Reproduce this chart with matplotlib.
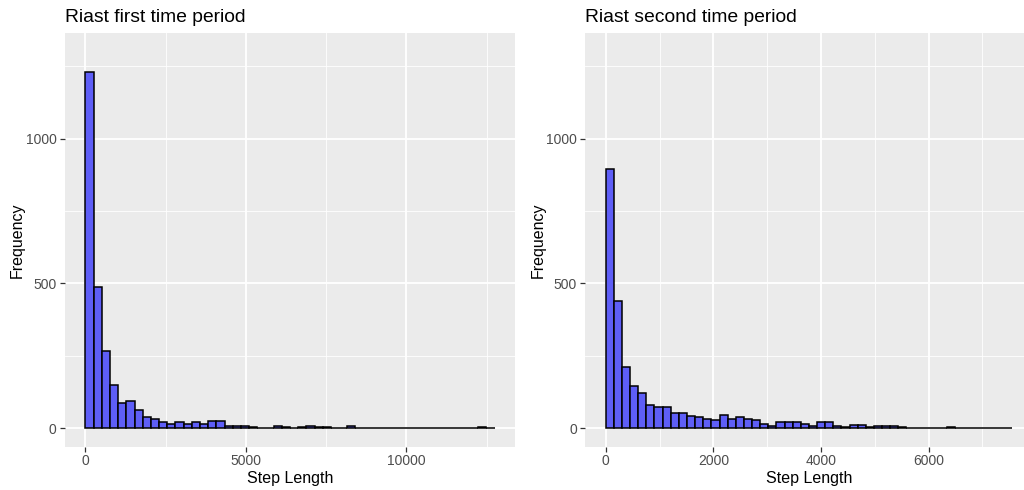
import numpy as np
import matplotlib
matplotlib.use("Agg")
import matplotlib.pyplot as plt
from matplotlib.ticker import MultipleLocator

plt.rcParams['font.family'] = ['Liberation Sans', 'DejaVu Sans']

# ---- data ----
titles = ["Riast first time period", "Riast second time period"]
x_label = "Step Length"
y_label = "Frequency"

binwidth_first = 255
counts_first = [1230, 487, 268, 148, 88, 95, 62, 37, 30, 22,
                15, 20, 14, 20, 16, 26, 26, 8, 6, 6,
                3, 2, 2, 7, 3, 2, 3, 9, 5, 3,
                1, 1, 6, 1, 1, 1, 0, 1, 2, 2,
                1, 0, 1, 1, 0, 1, 2, 2, 4, 1]

binwidth_second = 151
counts_second = [896, 441, 212, 146, 123, 80, 74, 74, 52, 51,
                 43, 40, 33, 29, 46, 33, 39, 33, 28, 16,
                 7, 22, 22, 22, 16, 7, 20, 20, 7, 5,
                 10, 10, 3, 8, 8, 7, 3, 1, 1, 0,
                 1, 1, 5, 2, 1, 2, 1, 1, 1, 2]

x_major_first = [0, 5000, 10000]
x_major_second = [0, 2000, 4000, 6000]
y_major = [0, 500, 1000]
y_limit = 1300

# ---- style ----
W, H = 1024, 490
fig = plt.figure(figsize=(W / 100, H / 100), dpi=100)
fig.patch.set_facecolor("white")

panel_bg = "#EBEBEB"
bar_fill = "#5E5EF7"
text_col = "#4D4D4D"


def draw(ax, counts, bw, xmaj, xminor, title):
    counts = np.asarray(counts)
    lefts = np.arange(len(counts)) * bw
    ax.set_facecolor(panel_bg)
    ax.bar(lefts, counts, width=bw, align="edge", color=bar_fill,
           edgecolor="black", linewidth=1.1, zorder=3)
    span = len(counts) * bw
    ax.set_xlim(-0.05 * span, span * 1.05)
    ax.set_ylim(-0.05 * y_limit, y_limit * 1.05)
    ax.set_xticks(xmaj)
    ax.set_xticklabels([str(v) for v in xmaj])
    ax.xaxis.set_minor_locator(MultipleLocator(xminor))
    ax.set_yticks(y_major)
    ax.set_yticklabels([str(v) for v in y_major])
    ax.yaxis.set_minor_locator(MultipleLocator(250))
    ax.grid(which="major", color="white", linewidth=1.3, zorder=0)
    ax.grid(which="minor", color="white", linewidth=0.6, zorder=0)
    ax.set_axisbelow(True)
    for s in ax.spines.values():
        s.set_visible(False)
    ax.tick_params(which="major", length=3.5, width=0.9, color="#333333",
                   labelcolor=text_col, labelsize=10, pad=2.5)
    ax.tick_params(axis="x", which="major", pad=1.2)
    ax.tick_params(which="minor", length=0)
    ax.set_xlabel(x_label, fontsize=11.5, color="black", labelpad=2.5)
    ax.set_ylabel(y_label, fontsize=11.5, color="black", labelpad=0.5)
    ax.set_title(title, loc="left", fontsize=13.9, color="black", pad=8)


ax1 = fig.add_axes([65 / W, 43 / H, 450 / W, 414 / H])
draw(ax1, counts_first, binwidth_first, x_major_first, 2500, titles[0])

ax2 = fig.add_axes([585.4 / W, 43 / H, 447 / W, 414 / H])
draw(ax2, counts_second, binwidth_second, x_major_second, 1000, titles[1])

fig.savefig("out.png", dpi=100)
